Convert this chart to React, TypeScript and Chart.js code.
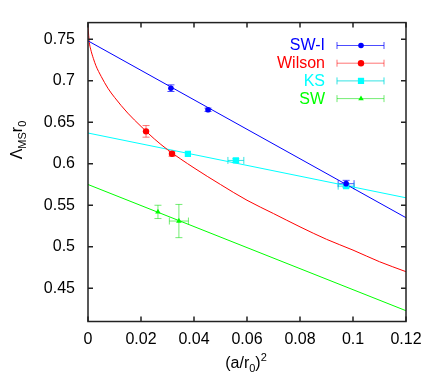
import React, { useEffect, useRef } from 'react';
import { Chart, registerables } from 'chart.js';

Chart.register(...registerables);

const FONT = "'Liberation Sans', Arial, Helvetica, sans-serif";

// Axis ticks
const xTicks = [0, 0.02, 0.04, 0.06, 0.08, 0.1, 0.12];
const xTickLabels = ['0', '0.02', '0.04', '0.06', '0.08', '0.1', '0.12'];
const yTicks = [0.45, 0.5, 0.55, 0.6, 0.65, 0.7, 0.75];
const yTickLabels = ['0.45', '0.5', '0.55', '0.6', '0.65', '0.7', '0.75'];
const xMin = 0;
const xMax = 0.12;
const yMin = 0.41;
const yMax = 0.77;

// Series
const seriesNames = ['SW-I', 'Wilson', 'KS', 'SW'];
const seriesColors = ['#0000ff', '#ff0000', '#00ffff', '#00ff00'];
const errColors = ['rgba(0,0,255,0.7)', 'rgba(255,0,0,0.55)', 'rgba(0,220,220,0.8)', 'rgba(0,220,0,0.55)'];
const pointStyles = ['circle', 'circle', 'rect', 'triangle'];
const pointRadii = [2.8, 3.2, 4.4, 3.2];

// Data points
const swiX = [0.0313, 0.0453, 0.0974];
const swiY = [0.691, 0.665, 0.576];
const swiXErr = [0, 0, 0.003];
const swiYErr = [0.004, 0.002, 0.004];

const wilsonX = [0.0219, 0.0317];
const wilsonY = [0.639, 0.612];
const wilsonXErr = [0, 0];
const wilsonYErr = [0.007, 0.003];

const ksX = [0.0377, 0.0558, 0.0974];
const ksY = [0.612, 0.604, 0.573];
const ksXErr = [0, 0.003, 0.003];
const ksYErr = [0, 0.002, 0.002];

const swX = [0.0264, 0.0343];
const swY = [0.542, 0.531];
const swXErr = [0, 0.0036];
const swYErr = [0.008, 0.02];

// Fit curves
const swiFitX = [0, 0.12];
const swiFitY = [0.748, 0.535];
const wilsonFitX = [0, 0.0005, 0.001, 0.002, 0.003, 0.005, 0.0075, 0.01, 0.015, 0.02, 0.025, 0.03, 0.04, 0.05, 0.06, 0.07, 0.08, 0.09, 0.1, 0.11, 0.12];
const wilsonFitY = [0.765, 0.746, 0.738, 0.727, 0.718, 0.705, 0.691, 0.68, 0.661, 0.645, 0.63, 0.617, 0.595, 0.575, 0.556, 0.54, 0.524, 0.509, 0.496, 0.482, 0.47];
const ksFitX = [0, 0.12];
const ksFitY = [0.637, 0.559];
const swFitX = [0, 0.12];
const swFitY = [0.575, 0.423];

const pointSeries = [
  { x: swiX, y: swiY, xe: swiXErr, ye: swiYErr },
  { x: wilsonX, y: wilsonY, xe: wilsonXErr, ye: wilsonYErr },
  { x: ksX, y: ksY, xe: ksXErr, ye: ksYErr },
  { x: swX, y: swY, xe: swXErr, ye: swYErr },
];
const fitSeries = [
  { x: swiFitX, y: swiFitY },
  { x: wilsonFitX, y: wilsonFitY },
  { x: ksFitX, y: ksFitY },
  { x: swFitX, y: swFitY },
];

const toXY = (xs: number[], ys: number[]) => xs.map((v, i) => ({ x: v, y: ys[i] }));

const CAP = 3.5;

function drawMarker(ctx: CanvasRenderingContext2D, style: string, r: number, x: number, y: number) {
  ctx.beginPath();
  if (style === 'circle') {
    ctx.arc(x, y, r, 0, Math.PI * 2);
  } else if (style === 'rect') {
    const h = r * Math.SQRT1_2;
    ctx.rect(x - h, y - h, 2 * h, 2 * h);
  } else if (style === 'triangle') {
    ctx.moveTo(x, y - r);
    ctx.lineTo(x + r * 0.866, y + r * 0.5);
    ctx.lineTo(x - r * 0.866, y + r * 0.5);
    ctx.closePath();
  }
  ctx.fill();
}

const errorBarPlugin = {
  id: 'errorBars',
  beforeDatasetsDraw(chart: any) {
    const { ctx, scales, chartArea } = chart;
    const xs = scales.x;
    const ys = scales.y;
    ctx.save();
    ctx.beginPath();
    ctx.rect(chartArea.left, chartArea.top, chartArea.right - chartArea.left, chartArea.bottom - chartArea.top);
    ctx.clip();
    ctx.lineWidth = 1;
    pointSeries.forEach((s, si) => {
      ctx.strokeStyle = errColors[si];
      s.x.forEach((vx, i) => {
        const px = xs.getPixelForValue(vx);
        const py = ys.getPixelForValue(s.y[i]);
        if (s.ye[i] > 0) {
          const t = ys.getPixelForValue(s.y[i] + s.ye[i]);
          const b = ys.getPixelForValue(s.y[i] - s.ye[i]);
          ctx.beginPath();
          ctx.moveTo(px, t); ctx.lineTo(px, b);
          ctx.moveTo(px - CAP, t); ctx.lineTo(px + CAP, t);
          ctx.moveTo(px - CAP, b); ctx.lineTo(px + CAP, b);
          ctx.stroke();
        }
        if (s.xe[i] > 0) {
          const l = xs.getPixelForValue(vx - s.xe[i]);
          const r = xs.getPixelForValue(vx + s.xe[i]);
          ctx.beginPath();
          ctx.moveTo(l, py); ctx.lineTo(r, py);
          ctx.moveTo(l, py - CAP); ctx.lineTo(l, py + CAP);
          ctx.moveTo(r, py - CAP); ctx.lineTo(r, py + CAP);
          ctx.stroke();
        }
      });
    });
    ctx.restore();
  },
};

const framePlugin = {
  id: 'frame',
  afterDraw(chart: any) {
    const { ctx, scales, chartArea } = chart;
    const { left, right, top, bottom } = chartArea;
    const TL = 5;
    ctx.save();
    ctx.strokeStyle = '#222';
    ctx.lineWidth = 1.5;
    ctx.strokeRect(left, top, right - left, bottom - top);
    ctx.beginPath();
    xTicks.forEach((v) => {
      const px = scales.x.getPixelForValue(v);
      ctx.moveTo(px, bottom); ctx.lineTo(px, bottom - TL);
      ctx.moveTo(px, top); ctx.lineTo(px, top + TL);
    });
    yTicks.forEach((v) => {
      const py = scales.y.getPixelForValue(v);
      ctx.moveTo(left, py); ctx.lineTo(left + TL, py);
      ctx.moveTo(right, py); ctx.lineTo(right - TL, py);
    });
    ctx.stroke();

    // Legend
    const textRight = 325;
    const lx0 = 337;
    const lx1 = 384;
    const lxm = 361;
    seriesNames.forEach((name, i) => {
      const yy = 45.5 + i * 17.7;
      ctx.font = `16px ${FONT}`;
      ctx.fillStyle = seriesColors[i];
      ctx.textAlign = 'right';
      ctx.textBaseline = 'middle';
      ctx.fillText(name, textRight, yy + 0.5);
      ctx.strokeStyle = errColors[i];
      ctx.lineWidth = 1;
      ctx.beginPath();
      ctx.moveTo(lx0, yy); ctx.lineTo(lx1, yy);
      ctx.moveTo(lx0, yy - CAP); ctx.lineTo(lx0, yy + CAP);
      ctx.moveTo(lx1, yy - CAP); ctx.lineTo(lx1, yy + CAP);
      ctx.stroke();
      ctx.fillStyle = seriesColors[i];
      drawMarker(ctx, pointStyles[i], pointRadii[i], lxm, yy);
    });

    // x axis title
    ctx.fillStyle = '#000';
    ctx.textAlign = 'left';
    ctx.textBaseline = 'alphabetic';
    const big = `16px ${FONT}`;
    const small = `11px ${FONT}`;
    const parts: [string, string, number][] = [
      ['(a/r', big, 0],
      ['0', small, 4],
      [')', big, 0],
      ['2', small, -7],
    ];
    let total = 0;
    parts.forEach(([t, f]) => { ctx.font = f; total += ctx.measureText(t).width; });
    let cx = 246 - total / 2;
    const base = 368;
    parts.forEach(([t, f, dy]) => {
      ctx.font = f;
      ctx.fillText(t, cx, base + dy);
      cx += ctx.measureText(t).width;
    });

    // y axis title (rotated)
    const yparts: [string, string, number][] = [
      ['\u039B', big, 0],
      ['MS', small, 4],
      ['r', big, 0],
      ['0', small, 4],
    ];
    let ytotal = 0;
    yparts.forEach(([t, f]) => { ctx.font = f; ytotal += ctx.measureText(t).width; });
    ctx.save();
    ctx.translate(22, 140);
    ctx.rotate(-Math.PI / 2);
    let tx = -ytotal / 2;
    yparts.forEach(([t, f, dy]) => {
      ctx.font = f;
      ctx.fillText(t, tx, dy);
      tx += ctx.measureText(t).width;
    });
    ctx.restore();
    ctx.restore();
  },
};

export default function App() {
  const ref = useRef<HTMLCanvasElement | null>(null);
  useEffect(() => {
    document.body.style.margin = '0';
    const canvas = ref.current;
    if (!canvas) return;
    const datasets: any[] = [];
    pointSeries.forEach((s, i) => {
      datasets.push({
        label: seriesNames[i],
        data: toXY(s.x, s.y),
        showLine: false,
        pointStyle: pointStyles[i],
        pointRadius: pointRadii[i],
        backgroundColor: seriesColors[i],
        borderColor: seriesColors[i],
        borderWidth: 0,
        order: 0,
      });
    });
    fitSeries.forEach((s, i) => {
      datasets.push({
        label: seriesNames[i] + ' fit',
        data: toXY(s.x, s.y),
        showLine: true,
        pointRadius: 0,
        borderColor: seriesColors[i],
        borderWidth: 1,
        cubicInterpolationMode: 'monotone',
        fill: false,
        order: 1,
      });
    });
    const chart = new Chart(canvas, {
      type: 'scatter',
      data: { datasets },
      options: {
        animation: false,
        responsive: false,
        devicePixelRatio: 1,
        layout: { padding: { top: 21, right: 30, left: 0, bottom: 0 } },
        plugins: { legend: { display: false }, tooltip: { enabled: false } },
        scales: {
          x: {
            type: 'linear',
            min: xMin,
            max: xMax,
            afterBuildTicks: (scale: any) => { scale.ticks = xTicks.map((v) => ({ value: v })); },
            afterFit: (scale: any) => { scale.height = 52.5; },
            grid: { display: false, drawTicks: false },
            border: { display: false },
            ticks: {
              font: { family: FONT, size: 16 },
              color: '#000',
              padding: 8,
              maxRotation: 0,
              autoSkip: false,
              callback: (v: any) => { const i = xTicks.findIndex((t) => Math.abs(t - v) < 1e-9); return i >= 0 ? xTickLabels[i] : ''; },
            },
          },
          y: {
            type: 'linear',
            min: yMin,
            max: yMax,
            afterBuildTicks: (scale: any) => { scale.ticks = yTicks.map((v) => ({ value: v })); },
            afterFit: (scale: any) => { scale.width = 88; },
            grid: { display: false, drawTicks: false },
            border: { display: false },
            ticks: {
              font: { family: FONT, size: 16 },
              color: '#000',
              padding: 13,
              autoSkip: false,
              callback: (v: any) => { const i = yTicks.findIndex((t) => Math.abs(t - v) < 1e-9); return i >= 0 ? yTickLabels[i] : ''; },
            },
          },
        },
      },
      plugins: [errorBarPlugin, framePlugin],
    });
    return () => chart.destroy();
  }, []);
  return (
    <div style={{ width: 436, height: 374, background: '#fff' }}>
      <canvas ref={ref} width={436} height={374} style={{ display: 'block' }} />
    </div>
  );
}
